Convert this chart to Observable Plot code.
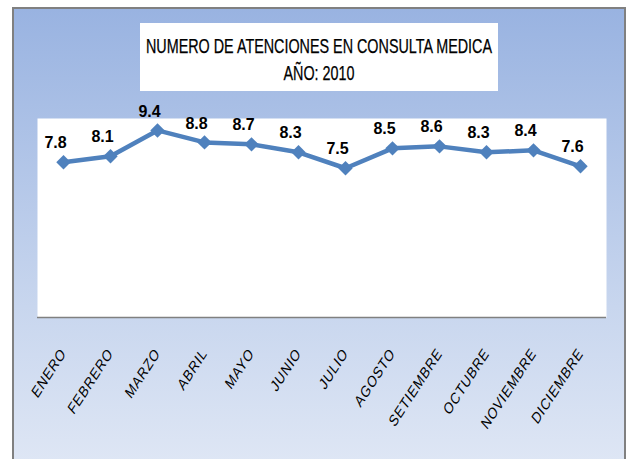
<!DOCTYPE html>
<html>
<head>
<meta charset="utf-8">
<script src="https://cdn.jsdelivr.net/npm/d3@7"></script>
<script src="https://cdn.jsdelivr.net/npm/@observablehq/plot@0.6"></script>
<style>
  body { margin: 0; background: white; }
  #wrap { position: relative; width: 630px; height: 459px; overflow: hidden; }
  #bg { position: absolute; left: 12px; top: 7px; width: 610px; height: 480px;
        border: 2px solid #808080;
        background: linear-gradient(to bottom, #99b3e1 0%, #c8d6ee 62%, #e2e9f6 100%); }
  #title { position: absolute; left: 140px; top: 23px; width: 358px; height: 68px; background: white;
           font-family: "Liberation Sans", sans-serif; font-size: 20px; -webkit-text-stroke: 0.25px #000;
           color: #000; }
  #title span { position: absolute; left: 50%; white-space: nowrap; line-height: 20px; }
  #t1 { top: 13px; }
  #t2 { top: 40px; }
  #chart { position: absolute; left: 0; top: 0; }
</style>
</head>
<body>
<div id="wrap">
  <div id="bg"></div>
  <div id="title"><span id="t1">NUMERO DE ATENCIONES EN CONSULTA MEDICA</span><span id="t2">AÑO: 2010</span></div>
  <div id="chart"></div>
</div>
<script>
const months = ["ENERO","FEBRERO","MARZO","ABRIL","MAYO","JUNIO","JULIO","AGOSTO","SETIEMBRE","OCTUBRE","NOVIEMBRE","DICIEMBRE"];
const values = [7.8, 8.1, 9.4, 8.8, 8.7, 8.3, 7.5, 8.5, 8.6, 8.3, 8.4, 7.6];
const data = months.map((m, i) => ({m, v: values[i]}));

// condense title to reference width
const t1 = document.getElementById("t1"), t2 = document.getElementById("t2");
const s = 346 / t1.getBoundingClientRect().width;
t1.style.transform = `translateX(-50%) scaleX(${s})`;
t2.style.transform = `translateX(-50%) scaleX(${s})`;

const chart = Plot.plot({
  width: 630, height: 459,
  marginLeft: 37, marginRight: 24, marginTop: 118, marginBottom: 142,
  x: {type: "point", domain: months, padding: 0.5, label: null},
  y: {domain: [0, 10], axis: null},
  style: {background: "transparent", overflow: "visible", fontFamily: "Liberation Sans"},
  marks: [
    Plot.frame({fill: "white", stroke: null}),
    Plot.ruleY([0], {stroke: "#808080", strokeWidth: 1.5}),
    Plot.axisX({tickSize: 0, tickPadding: 33, tickRotate: -57, fontSize: 14, label: null, fill: "#000"}),
    Plot.line(data, {x: "m", y: "v", stroke: "#4f81bd", strokeWidth: 4.5}),
    Plot.dot(data, {x: "m", y: "v", symbol: "diamond2", r: 6.5, fill: "#4f81bd", stroke: null}),
    Plot.text(data, {x: "m", y: "v", text: d => d.v.toFixed(1), dx: -8, dy: -19, fontSize: 16,
                     fontWeight: "bold", fill: "#000"})
  ]
});
document.getElementById("chart").append(chart);
d3.select(chart).selectAll("g[aria-label='x-axis tick label']")
  .attr("letter-spacing", "0.8px");
d3.select(chart).selectAll("g[aria-label='x-axis tick label'] text")
  .each(function() {
    const t = this.getAttribute("transform") || "";
    this.setAttribute("transform", t + " skewX(-14)");
  });
</script>
</body>
</html>
